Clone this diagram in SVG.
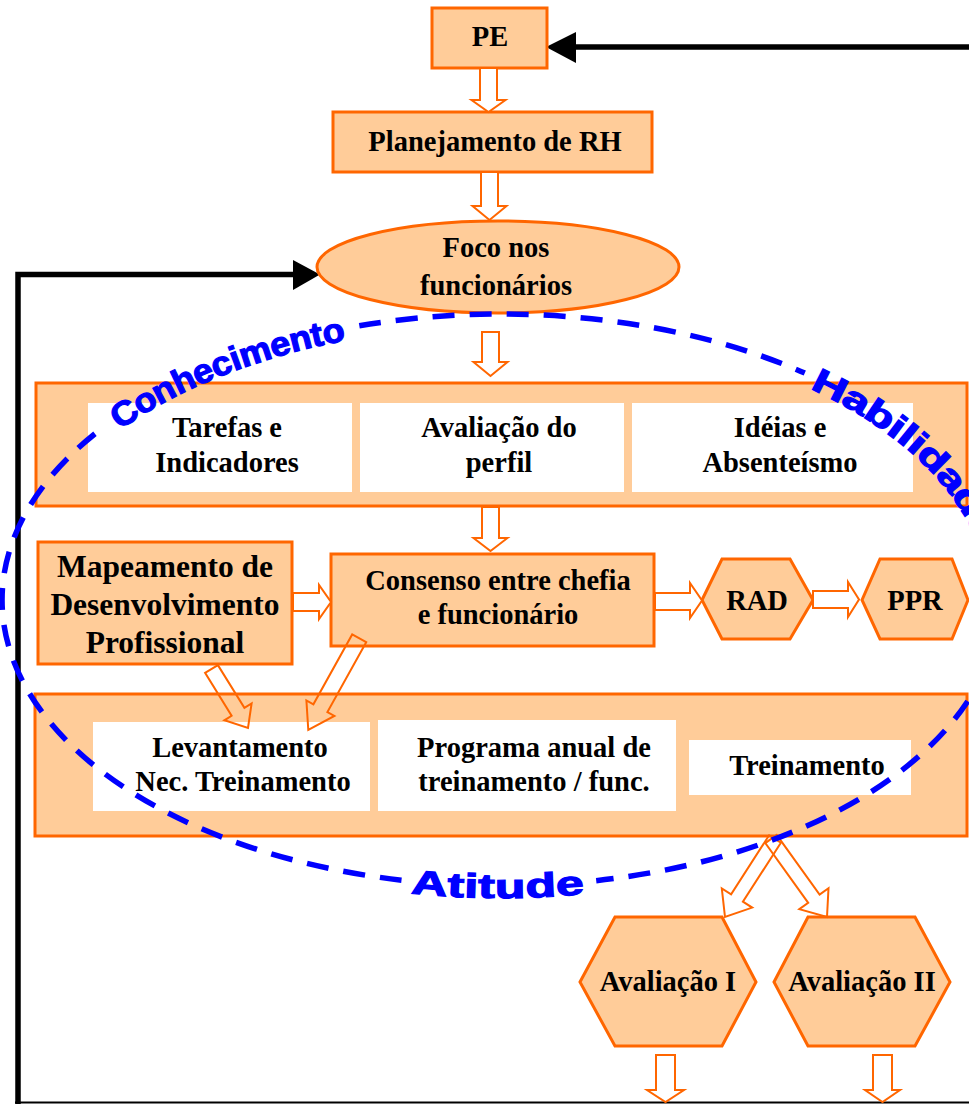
<svg xmlns="http://www.w3.org/2000/svg" xmlns:xlink="http://www.w3.org/1999/xlink" width="969" height="1104" viewBox="0 0 969 1104">
<style>
.box{fill:#FFCC99;stroke:#FF6600;stroke-width:3}
.wb{fill:#FFFFFF;stroke:none}
.ba{fill:#FFFFFF;stroke:#FF6600;stroke-width:2;stroke-linejoin:miter}
.bd{fill:none;stroke:#FF6600;stroke-width:2;stroke-linejoin:miter}
.t{font-family:"Liberation Serif","Times New Roman",serif;font-weight:bold;font-size:28.5px;text-anchor:middle;fill:#000}
.tl{font-size:31.5px}
.fb{fill:none;stroke:#000;stroke-width:5.5}
.dash{fill:none;stroke:#0000FF;stroke-width:5.5;stroke-dasharray:22 15}
.w{font-family:"Liberation Sans",Arial,sans-serif;font-weight:bold;font-size:34px;fill:#0000FF;stroke:#0000FF;stroke-width:1.2}
</style>
<defs>
<path id="pC" d="M113.2,420 A499,286 0 0 1 457.5,315.1"/>
<path id="pH" d="M815,377.7 A499,286 0 0 1 983,674"/>
<path id="pA" d="M411.8,881.4 A499,286 0 0 0 671.7,868.8"/>
</defs>
<rect width="969" height="1104" fill="#FFFFFF"/>

<g id="feedback">
<path class="fb" d="M969,47 H570"/>
<polygon points="546,47 576,32 576,63" fill="#000"/>
<path class="fb" d="M18,1104 V274.5 H296"/>
<polygon points="320,274.5 293,260 293,290" fill="#000"/>
<path d="M15,1102.5 H969" stroke="#000" stroke-width="2" fill="none"/>
</g>

<g id="pe"><rect class="box" x="432" y="8" width="115" height="60"/><text class="t" x="490" y="46">PE</text></g>
<g id="planejamento"><rect class="box" x="333" y="112" width="319" height="60"/><text class="t" x="495" y="151">Planejamento de RH</text></g>
<g id="foco"><ellipse class="box" cx="498" cy="267" rx="181" ry="46"/><text class="t" x="496" y="257">Foco nos</text><text class="t" x="496" y="295">funcionários</text></g>

<g id="grupo1">
<rect class="box" x="36" y="383" width="931" height="123"/>
<g id="tarefas"><rect class="wb" x="88" y="403" width="264" height="89"/><text class="t" x="227" y="437">Tarefas e</text><text class="t" x="227" y="472">Indicadores</text></g>
<g id="avaliacao-perfil"><rect class="wb" x="360" y="403" width="264" height="89"/><text class="t" x="499" y="437">Avaliação do</text><text class="t" x="499" y="472">perfil</text></g>
<g id="ideias"><rect class="wb" x="632" y="403" width="281" height="89"/><text class="t" x="780" y="437">Idéias e</text><text class="t" x="780" y="472">Absenteísmo</text></g>
</g>

<g id="mapeamento"><rect class="box" x="38" y="542" width="254" height="122"/><text class="t tl" x="165" y="577">Mapeamento de</text><text class="t tl" x="165" y="615">Desenvolvimento</text><text class="t tl" x="165" y="653">Profissional</text></g>
<g id="consenso"><rect class="box" x="331" y="554" width="323" height="92"/><text class="t" x="498" y="590">Consenso entre chefia</text><text class="t" x="498" y="624">e funcionário</text></g>
<g id="rad"><polygon class="box" points="702,600 722,559 790,559 813,600 790,639 722,639"/><text class="t" x="757" y="610">RAD</text></g>
<g id="ppr"><polygon class="box" points="862,600 880,559 952,559 968,600 952,639 880,639"/><text class="t" x="915" y="610">PPR</text></g>

<g id="grupo2">
<rect class="box" x="35" y="694" width="932" height="142"/>
<g id="levantamento"><rect class="wb" x="93" y="722" width="277" height="89"/><text class="t" x="240" y="757">Levantamento</text><text class="t" x="243" y="791">Nec. Treinamento</text></g>
<g id="programa"><rect class="wb" x="378" y="720" width="298" height="91"/><text class="t" x="534" y="757">Programa anual de</text><text class="t" x="534" y="791">treinamento / func.</text></g>
<g id="treinamento"><rect class="wb" x="689" y="740" width="222" height="55"/><text class="t" x="807" y="775">Treinamento</text></g>
</g>

<g id="avaliacao1"><polygon class="box" points="580,982 615,917 722,917 756,982 722,1046 615,1046"/><text class="t" x="668" y="991">Avaliação I</text></g>
<g id="avaliacao2"><polygon class="box" points="774,982 808,917 915,917 950,982 915,1046 808,1046"/><text class="t" x="862" y="991">Avaliação II</text></g>

<g id="connectors">
<polygon class="ba" points="480,68 497,68 497,100 505.5,100 488.5,112 471.5,100 480,100"/>
<polygon class="ba" points="481,172 498,172 498,206 506.5,206 489.5,220 472.5,206 481,206"/>
<polygon class="ba" points="482,332 499,332 499,362 507.5,362 490.5,376 473.5,362 482,362"/>
<polygon class="ba" points="482,507 499,507 499,538 507.5,538 490.5,551 473.5,538 482,538"/>
<polygon class="ba" points="293,593 319,593 319,585 331,602 319,619 319,611 293,611"/>
<polygon class="ba" points="655,593 690,593 690,583 702,600.5 690,618 690,610 655,610"/>
<polygon class="ba" points="813,591 848,591 848,582 859,599.5 848,617 848,608 813,608"/>
<polygon class="bd" points="217.9,665.1 244.4,707.9 251.6,703.4 248,728 224.4,720.3 231.6,715.8 205.1,672.9"/>
<polygon class="bd" points="366.2,642.2 327.4,712 334.4,715.9 308.3,730 306.4,700.4 313.4,704.3 352.2,634.4"/>
<polygon class="bd" points="780.9,842.7 742.9,901.7 752.2,907.6 725,917 721.8,888.4 731.1,894.3 769.1,835.3"/>
<polygon class="bd" points="776.7,834.9 819.6,894.6 828.5,888.2 827,917 799.3,909.2 808.2,902.8 765.3,843.1"/>
<polygon class="ba" points="656,1055 675,1055 675,1090 684,1090 665.5,1102 647,1090 656,1090"/>
<polygon class="ba" points="873,1055 892,1055 892,1090 900,1090 882.5,1102 865,1090 873,1090"/>
</g>

<g id="competencias">
<path class="dash" d="M359.3,325.8 A499,286 0 0 1 804.8,373.1"/>
<path class="dash" d="M995.2,560.2 A499,286 0 0 1 596.2,880.7"/>
<path class="dash" d="M401.5,880.2 A499,286 0 0 1 105.1,425.9"/>
<text class="w" dy="12"><textPath xlink:href="#pC" textLength="250" lengthAdjust="spacingAndGlyphs">Conhecimento</textPath></text>
<text class="w" dy="12"><textPath xlink:href="#pH" textLength="240" lengthAdjust="spacingAndGlyphs">Habilidade</textPath></text>
<text class="w" dy="12"><textPath xlink:href="#pA" textLength="172" lengthAdjust="spacingAndGlyphs">Atitude</textPath></text>
</g>
</svg>
